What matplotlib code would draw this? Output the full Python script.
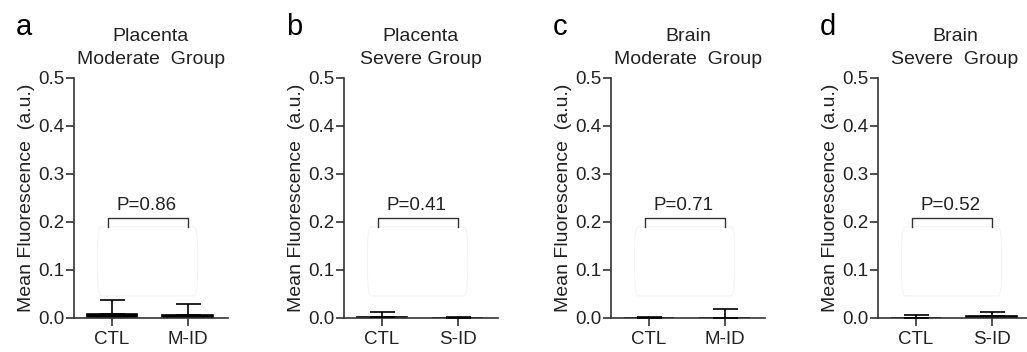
import matplotlib.pyplot as plt
from matplotlib.patches import FancyBboxPatch

plt.rcParams['font.family'] = ['Liberation Sans', 'DejaVu Sans']

# panel data
panel_letters = ["a", "b", "c", "d"]
tissues = ["Placenta", "Placenta", "Brain", "Brain"]
groups = ["Moderate  Group", "Severe Group", "Moderate  Group", "Severe  Group"]
groups_short = [["CTL", "M-ID"], ["CTL", "S-ID"], ["CTL", "M-ID"], ["CTL", "S-ID"]]
means = [[0.009, 0.006], [0.003, 0.001], [0.001, 0.0005], [0.001, 0.005]]
sems = [[0.029, 0.023], [0.009, 0.001], [0.001, 0.0175], [0.006, 0.008]]
p_values = ["P=0.86", "P=0.41", "P=0.71", "P=0.52"]
yticks = [0.0, 0.1, 0.2, 0.3, 0.4, 0.5]

W, H = 1027, 352
fig = plt.figure(figsize=(W / 100, H / 100), dpi=100)

axis_left_px = [74, 344, 611, 878]
ax_w, ax_bottom, ax_h = 154, 352 - 318, 240
line_col = "#333333"
text_col = "#222222"

for i in range(4):
    ax = fig.add_axes([axis_left_px[i] / W, ax_bottom / H, ax_w / W, ax_h / H])
    x = [0, 1]

    # faint box left in the original figure
    box = FancyBboxPatch((-0.19, 0.046), 1.32, 0.144,
                         boxstyle="round,pad=0,rounding_size=0.05",
                         fc="none", ec="#f4f4f4", lw=0.8, zorder=0)
    ax.add_patch(box)

    ax.bar(x, means[i], width=0.67, color="black", edgecolor="black",
           linewidth=1.2, zorder=2)
    for xi, m, s in zip(x, means[i], sems[i]):
        ax.errorbar(xi, m, yerr=[[0], [s]], fmt="none", ecolor="black",
                    elinewidth=1.2, capsize=9, capthick=1.2, zorder=3)

    # significance bracket
    yb, drop = 0.208, 0.019
    ax.plot([-0.05, -0.05, 1.0, 1.0], [yb - drop, yb, yb, yb - drop],
            color=line_col, lw=1.0, zorder=3)
    ax.text(0.45, yb + 0.008, p_values[i], ha="center", va="bottom",
            fontsize=13.5, color=text_col)

    ax.set_xlim(-0.5, 1.53)
    ax.set_ylim(0, 0.5)
    ax.set_yticks(yticks)
    ax.set_yticklabels([f"{t:.1f}" for t in yticks])
    ax.set_xticks(x)
    ax.set_xticklabels(groups_short[i])

    for side in ["top", "right"]:
        ax.spines[side].set_visible(False)
    for side in ["left", "bottom"]:
        ax.spines[side].set_color(line_col)
        ax.spines[side].set_linewidth(1.2)
    ax.tick_params(axis="both", colors=line_col, labelcolor=text_col,
                   labelsize=13.5, width=1.2, length=6, pad=1)
    ax.tick_params(axis="x", pad=3)

    ax.set_ylabel("Mean Fluorescence  (a.u.)", fontsize=14, color=text_col,
                  labelpad=2)
    ax.set_title(tissues[i] + "\n" + groups[i], fontsize=14, color=text_col,
                 pad=10, linespacing=1.45)

    fig.text((axis_left_px[i] - 58) / W, 1 - 35 / H, panel_letters[i],
             fontsize=21, ha="left", va="baseline", color="black")

fig.savefig("out.png", dpi=100)
